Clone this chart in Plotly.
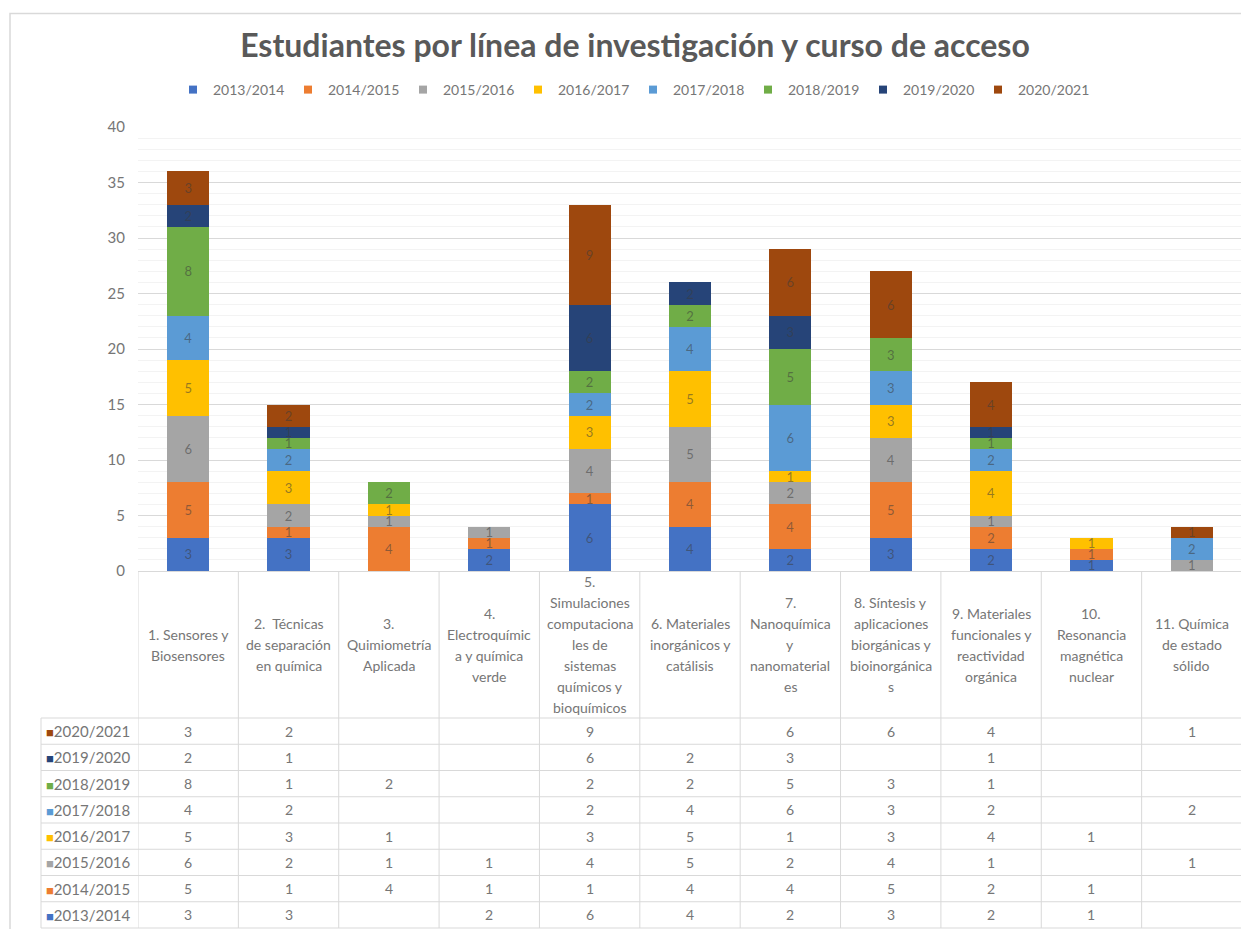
import plotly.graph_objects as go

# ---------------- data ----------------
categories = [
    "1. Sensores y Biosensores",
    "2. Técnicas de separación en química",
    "3. Quimiometría Aplicada",
    "4. Electroquímica y química verde",
    "5. Simulaciones computacionales de sistemas químicos y bioquímicos",
    "6. Materiales inorgánicos y catálisis",
    "7. Nanoquímica y nanomateriales",
    "8. Síntesis y aplicaciones biorgánicas y bioinorgánicas",
    "9. Materiales funcionales y reactividad orgánica",
    "10. Resonancia magnética nuclear",
    "11. Química de estado sólido",
]
# wrapped header text as shown in the data table
header_lines = [
    ["1. Sensores y", "Biosensores"],
    ["2.  Técnicas", "de separación", "en química"],
    ["3.", "Quimiometría", "Aplicada"],
    ["4.", "Electroquímic", "a y química", "verde"],
    ["5.", "Simulaciones", "computaciona", "les de", "sistemas", "químicos y", "bioquímicos"],
    ["6. Materiales", "inorgánicos y", "catálisis"],
    ["7.", "Nanoquímica", "y", "nanomaterial", "es"],
    ["8. Síntesis y", "aplicaciones", "biorgánicas y", "bioinorgánica", "s"],
    ["9. Materiales", "funcionales y", "reactividad", "orgánica"],
    ["10.", "Resonancia", "magnética", "nuclear"],
    ["11. Química", "de estado", "sólido"],
]

years = ["2013/2014", "2014/2015", "2015/2016", "2016/2017",
         "2017/2018", "2018/2019", "2019/2020", "2020/2021"]

v_2013_2014 = [3, 3, None, 2, 6, 4, 2, 3, 2, 1, None]
v_2014_2015 = [5, 1, 4, 1, 1, 4, 4, 5, 2, 1, None]
v_2015_2016 = [6, 2, 1, 1, 4, 5, 2, 4, 1, None, 1]
v_2016_2017 = [5, 3, 1, None, 3, 5, 1, 3, 4, 1, None]
v_2017_2018 = [4, 2, None, None, 2, 4, 6, 3, 2, None, 2]
v_2018_2019 = [8, 1, 2, None, 2, 2, 5, 3, 1, None, None]
v_2019_2020 = [2, 1, None, None, 6, 2, 3, None, 1, None, None]
v_2020_2021 = [3, 2, None, None, 9, None, 6, 6, 4, None, 1]

series = [v_2013_2014, v_2014_2015, v_2015_2016, v_2016_2017,
          v_2017_2018, v_2018_2019, v_2019_2020, v_2020_2021]

colors = ["#4472C4", "#ED7D31", "#A5A5A5", "#FFC000",
          "#5B9BD5", "#70AD47", "#264478", "#9E480E"]

y_ticks = [0, 5, 10, 15, 20, 25, 30, 35, 40]

# ---------------- layout helpers ----------------
OFF = 8                      # page body margin
W, H = 1249 - OFF, 929 - OFF
FONT = "Lato, 'Open Sans', sans-serif"
TXT = "#767676"
GRID = "#D9D9D9"


def px_x(p):
    return (p - OFF) / W


def px_y(p):
    return 1 - (p - OFF) / H


plot_left, plot_right = 138, 1242
plot_top, plot_zero = 127, 571
header_bottom = 718
table_bottom = 928
row_h = (table_bottom - header_bottom) / len(years)
rowlab_left = 41

fig = go.Figure()

n_cat = len(categories)
for name, vals, col in zip(years, series, colors):
    fig.add_trace(go.Bar(
        x=categories, y=vals, name=name,
        marker=dict(color=col, line=dict(width=0)),
        text=[("" if v is None else str(v)) for v in vals],
        textposition="inside", insidetextanchor="middle", textangle=0,
        textfont=dict(family=FONT, size=13, color="rgba(60,60,60,0.55)"),
        showlegend=False, hoverinfo="x+y+name",
    ))
    # legend entry with a small square swatch
    fig.add_trace(go.Scatter(
        x=[None], y=[None], mode="markers", name=name,
        marker=dict(symbol="square", size=8, color=col),
        showlegend=True, hoverinfo="skip",
    ))

shapes = []
annotations = []

# table vertical lines (category column borders)
for i in range(n_cat + 1):
    shapes.append(dict(type="line", xref="x", yref="paper",
                       x0=i - 0.5, x1=i - 0.5,
                       y0=px_y(table_bottom), y1=px_y(plot_zero),
                       line=dict(color=GRID, width=1)))
# row-label column left border
shapes.append(dict(type="line", xref="paper", yref="paper",
                   x0=px_x(rowlab_left), x1=px_x(rowlab_left),
                   y0=px_y(table_bottom), y1=px_y(header_bottom),
                   line=dict(color=GRID, width=1)))
# table horizontal lines
for r in range(len(years) + 1):
    yy = header_bottom + r * row_h
    shapes.append(dict(type="line", xref="paper", yref="paper",
                       x0=px_x(rowlab_left), x1=px_x(plot_right),
                       y0=px_y(yy), y1=px_y(yy),
                       line=dict(color=GRID, width=1)))
# outer chart border
shapes.append(dict(type="rect", xref="paper", yref="paper",
                   x0=px_x(10), x1=1.02, y0=-0.02, y1=px_y(13.5),
                   line=dict(color="#D9D9D9", width=1.5), layer="below"))

# header (category) labels, each line separately to mimic Excel spacing
header_mid = (plot_zero + header_bottom) / 2
line_gap = 21
for i, lines in enumerate(header_lines):
    n = len(lines)
    for k, t in enumerate(lines):
        yy = header_mid + (k - (n - 1) / 2) * line_gap
        annotations.append(dict(x=i, y=px_y(yy), xref="x", yref="paper",
                                text=t, showarrow=False, xanchor="center",
                                yanchor="middle",
                                font=dict(family=FONT, size=14, color=TXT)))

# table rows: top row is the latest year
for r, (name, vals, col) in enumerate(reversed(list(zip(years, series, colors)))):
    yy = header_bottom + (r + 0.5) * row_h
    annotations.append(dict(x=px_x(rowlab_left + 3), y=px_y(yy), xref="paper", yref="paper",
                            text=f"<span style='color:{col};font-size:13px'>■</span>{name}",
                            showarrow=False, xanchor="left", yanchor="middle",
                            font=dict(family=FONT, size=15, color=TXT)))
    for i, v in enumerate(vals):
        if v is None:
            continue
        annotations.append(dict(x=i, y=px_y(yy), xref="x", yref="paper",
                                text=str(v), showarrow=False, xanchor="center",
                                yanchor="middle",
                                font=dict(family=FONT, size=14, color=TXT)))

fig.update_layout(
    width=W, height=H, autosize=False,
    margin=dict(l=0, r=0, t=0, b=0),
    paper_bgcolor="white", plot_bgcolor="white",
    barmode="stack", bargap=0.58,
    uniformtext=dict(minsize=13, mode="show"),
    title=dict(text="<b>Estudiantes por línea de investigación y curso de acceso</b>",
               x=px_x(635), xanchor="center", y=px_y(46), yanchor="middle",
               font=dict(family=FONT, size=32, color="#595959")),
    legend=dict(orientation="h", x=px_x(633), xanchor="center",
                y=px_y(90), yanchor="middle", traceorder="normal",
                font=dict(family=FONT, size=14, color=TXT),
                itemwidth=30, entrywidth=70, entrywidthmode="pixels",
                tracegroupgap=0, bgcolor="rgba(0,0,0,0)"),
    xaxis=dict(domain=[px_x(plot_left), px_x(plot_right)], range=[-0.5, n_cat - 0.5],
               showticklabels=False, showgrid=False, showline=True,
               linecolor=GRID, linewidth=1, zeroline=False, ticks="",
               fixedrange=True, automargin=False),
    yaxis=dict(domain=[px_y(plot_zero), px_y(plot_top)], range=[0, 40],
               tickvals=y_ticks, showgrid=True, gridcolor=GRID, gridwidth=1,
               minor=dict(dtick=1, showgrid=True, gridcolor="#F3F3F3", gridwidth=1),
               zeroline=False, showline=False, ticks="",
               tickfont=dict(family=FONT, size=15, color=TXT),
               ticklabelstandoff=12, automargin=False, fixedrange=True),
    shapes=shapes, annotations=annotations,
    font=dict(family=FONT, color=TXT),
)

fig.write_html("out.html")
